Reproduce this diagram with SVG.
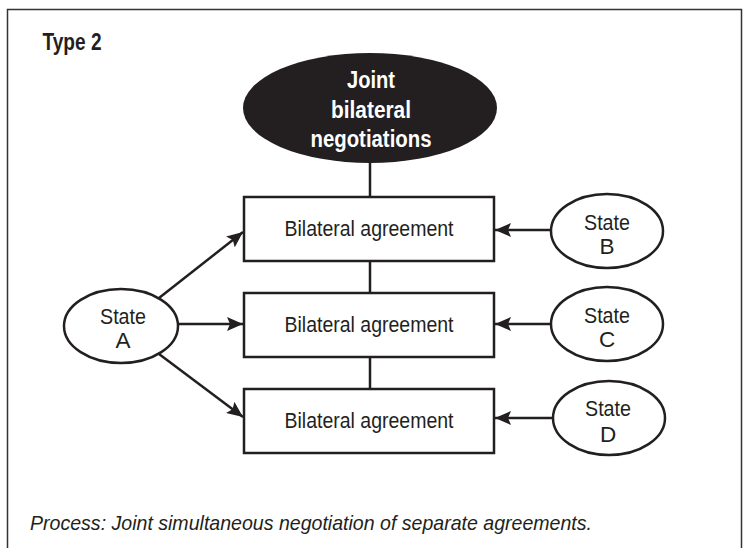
<svg xmlns="http://www.w3.org/2000/svg" width="743" height="548" viewBox="0 0 743 548">
<style>
.frame{fill:none;stroke:#333;stroke-width:1.5}
.box{fill:#fff;stroke:#231f20;stroke-width:2.5}
.state{fill:#fff;stroke:#231f20;stroke-width:2.5}
.line{fill:none;stroke:#231f20;stroke-width:2.5}
.t{font-family:"Liberation Sans",Arial,sans-serif;font-size:22.5px;fill:#231f20;text-anchor:middle}
.tb{font-family:"Liberation Sans",Arial,sans-serif;font-size:23px;font-weight:bold;fill:#fff;text-anchor:middle}
.title{font-family:"Liberation Sans",Arial,sans-serif;font-size:24px;font-weight:bold;fill:#231f20}
.cap{font-family:"Liberation Sans",Arial,sans-serif;font-size:21px;font-style:italic;fill:#231f20}
</style>
<defs>
<marker id="ah" markerUnits="userSpaceOnUse" markerWidth="18" markerHeight="14" refX="16" refY="7" orient="auto">
<path d="M0,0 L16,7 L0,14 L3,7 z" fill="#231f20"/>
</marker>
</defs>
<rect width="743" height="548" fill="#fff"/>
<path class="frame" d="M7.5,548 V9.5 H741.5 V548"/>
<text class="title" x="42.5" y="50" textLength="59" lengthAdjust="spacingAndGlyphs">Type 2</text>
<g id="connectors">
<line class="line" x1="370" y1="163" x2="370" y2="197"/>
<line class="line" x1="370" y1="261" x2="370" y2="293"/>
<line class="line" x1="370" y1="357" x2="370" y2="389"/>
<line class="line" x1="159" y1="298" x2="243" y2="232" marker-end="url(#ah)"/>
<line class="line" x1="178" y1="324" x2="243" y2="324" marker-end="url(#ah)"/>
<line class="line" x1="159" y1="354" x2="243" y2="417" marker-end="url(#ah)"/>
<line class="line" x1="551" y1="230" x2="495" y2="230" marker-end="url(#ah)"/>
<line class="line" x1="551" y1="324" x2="495" y2="324" marker-end="url(#ah)"/>
<line class="line" x1="553" y1="418" x2="495" y2="418" marker-end="url(#ah)"/>
</g>
<g id="joint">
<ellipse cx="370" cy="108" rx="127" ry="55" fill="#231f20"/>
<text class="tb" x="371" y="88" textLength="48" lengthAdjust="spacingAndGlyphs">Joint</text>
<text class="tb" x="371" y="118" textLength="80" lengthAdjust="spacingAndGlyphs">bilateral</text>
<text class="tb" x="371" y="147" textLength="121" lengthAdjust="spacingAndGlyphs">negotiations</text>
</g>
<g id="agreement1">
<rect class="box" x="244" y="197" width="250" height="64"/>
<text class="t" x="369" y="236" textLength="169" lengthAdjust="spacingAndGlyphs">Bilateral agreement</text>
</g>
<g id="agreement2">
<rect class="box" x="244" y="293" width="250" height="64"/>
<text class="t" x="369" y="332" textLength="169" lengthAdjust="spacingAndGlyphs">Bilateral agreement</text>
</g>
<g id="agreement3">
<rect class="box" x="244" y="389" width="250" height="64"/>
<text class="t" x="369" y="428" textLength="169" lengthAdjust="spacingAndGlyphs">Bilateral agreement</text>
</g>
<g id="stateA">
<ellipse class="state" cx="121" cy="326" rx="57" ry="37"/>
<text class="t" x="123" y="324" textLength="46" lengthAdjust="spacingAndGlyphs">State</text>
<text class="t" x="123" y="348">A</text>
</g>
<g id="stateB">
<ellipse class="state" cx="607" cy="231" rx="56" ry="37"/>
<text class="t" x="607" y="230" textLength="46" lengthAdjust="spacingAndGlyphs">State</text>
<text class="t" x="607" y="254">B</text>
</g>
<g id="stateC">
<ellipse class="state" cx="607" cy="324" rx="56" ry="37"/>
<text class="t" x="607" y="323" textLength="46" lengthAdjust="spacingAndGlyphs">State</text>
<text class="t" x="607" y="347">C</text>
</g>
<g id="stateD">
<ellipse class="state" cx="609" cy="418" rx="56" ry="37"/>
<text class="t" x="608" y="416" textLength="46" lengthAdjust="spacingAndGlyphs">State</text>
<text class="t" x="608" y="442">D</text>
</g>
<text class="cap" x="30" y="530" textLength="562" lengthAdjust="spacingAndGlyphs">Process: Joint simultaneous negotiation of separate agreements.</text>
</svg>
